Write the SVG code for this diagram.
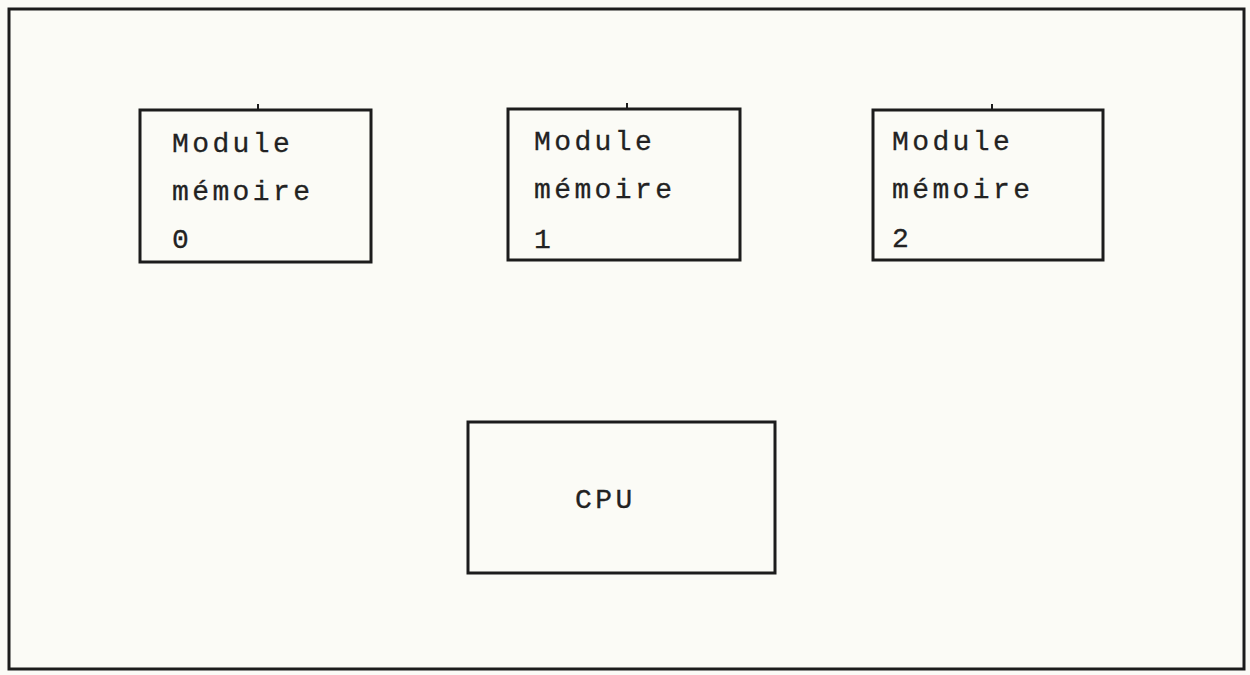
<svg xmlns="http://www.w3.org/2000/svg" width="1250" height="675" viewBox="0 0 1250 675">
<style>
.box{fill:none;stroke:#1c1c1c;stroke-width:3}
.tick{stroke:#1c1c1c;stroke-width:2}
.t{font-family:"Liberation Mono","DejaVu Sans Mono",monospace;font-size:28px;letter-spacing:3.4px;fill:#222;stroke:#222;stroke-width:0.3}
</style>
<rect x="0" y="0" width="1250" height="675" fill="#fbfbf6"/>
<rect x="9" y="9" width="1235" height="660" class="box"/>
<g id="module0">
<rect x="140" y="110" width="231" height="152" class="box"/>
<line x1="258" y1="104" x2="258" y2="110" class="tick"/>
<text class="t" x="172" y="152">Module</text>
<text class="t" x="172" y="200">mémoire</text>
<text class="t" x="172" y="248">0</text>
</g>
<g id="module1">
<rect x="508" y="109" width="232" height="151" class="box"/>
<line x1="627" y1="103" x2="627" y2="109" class="tick"/>
<text class="t" x="534" y="150">Module</text>
<text class="t" x="534" y="198">mémoire</text>
<text class="t" x="534" y="248">1</text>
</g>
<g id="module2">
<rect x="873" y="110" width="230" height="150" class="box"/>
<line x1="992" y1="104" x2="992" y2="110" class="tick"/>
<text class="t" x="892" y="150">Module</text>
<text class="t" x="892" y="198">mémoire</text>
<text class="t" x="892" y="247">2</text>
</g>
<g id="cpu">
<rect x="468" y="422" width="307" height="151" class="box"/>
<text class="t" x="575" y="508">CPU</text>
</g>
<g id="connectors"></g>
</svg>
